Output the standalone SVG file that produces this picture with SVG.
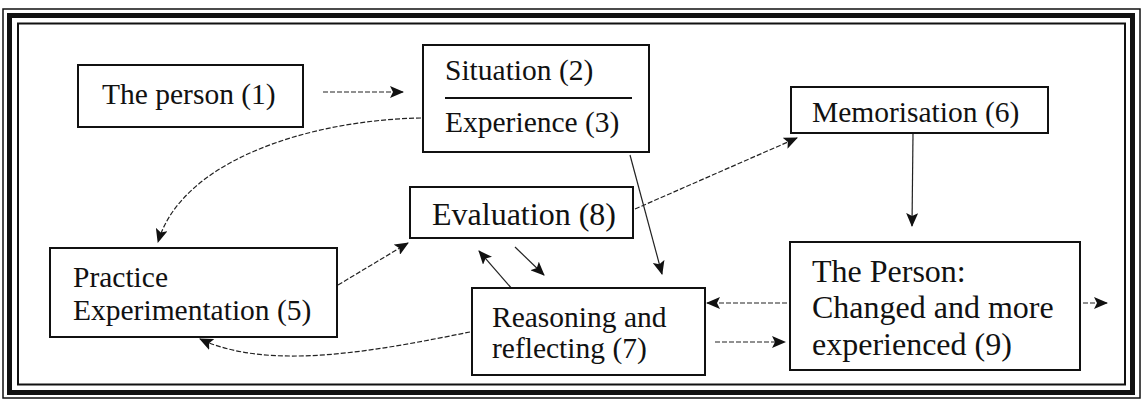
<svg xmlns="http://www.w3.org/2000/svg" width="1147" height="400" viewBox="0 0 1147 400">
<style>
.box{fill:#fff;stroke:#111;stroke-width:2}
.t{font-family:"Liberation Serif","Times New Roman",serif;font-size:29.5px;fill:#111}
.tb{font-family:"Liberation Serif","Times New Roman",serif;font-size:32px;fill:#111}
.c{fill:none;stroke:#222;stroke-width:1.2}
.d{stroke-dasharray:5 2}
</style>
<defs>
<marker id="ah" markerUnits="userSpaceOnUse" markerWidth="14" markerHeight="12" viewBox="0 0 14 12" refX="13" refY="6" orient="auto">
<path d="M0,0 L14,6 L0,12 L3,6 Z" fill="#111"/>
</marker>
</defs>
<rect width="1147" height="400" fill="#fff"/>
<g id="frame" fill="none" stroke="#111">
<rect x="3" y="9" width="1137" height="389" stroke-width="1.5"/>
<rect x="9.5" y="15.5" width="1123" height="377" stroke-width="5"/>
<rect x="18" y="23.5" width="1107" height="361" stroke-width="2"/>
</g>
<g id="connectors">
<line class="c d" x1="323" y1="92" x2="403" y2="92" marker-end="url(#ah)"/>
<path class="c d" d="M421,118 C310,120 182,160 158,242" marker-end="url(#ah)"/>
<line class="c d" x1="338" y1="285" x2="408" y2="243" marker-end="url(#ah)"/>
<line class="c" x1="513" y1="290" x2="479" y2="251" marker-end="url(#ah)"/>
<line class="c" x1="515" y1="247" x2="544" y2="275" marker-end="url(#ah)"/>
<line class="c" x1="630" y1="155" x2="662" y2="274" marker-end="url(#ah)"/>
<line class="c d" x1="635" y1="209" x2="797" y2="138" marker-end="url(#ah)"/>
<line class="c" x1="913" y1="134" x2="912" y2="226" marker-end="url(#ah)"/>
<line class="c d" x1="787" y1="303" x2="707" y2="303" marker-end="url(#ah)"/>
<line class="c d" x1="715" y1="342" x2="785" y2="342" marker-end="url(#ah)"/>
<line class="c d" x1="1083" y1="303" x2="1107" y2="303" marker-end="url(#ah)"/>
<path class="c d" d="M470,332 C380,350 270,372 200,339" marker-end="url(#ah)"/>
</g>
<g id="n1">
<rect class="box" x="78" y="65" width="225" height="62"/>
<text class="t" x="102" y="104">The person (1)</text>
</g>
<g id="n2-3">
<rect class="box" x="423" y="45" width="226" height="107"/>
<text class="t" x="445" y="80">Situation (2)</text>
<line x1="445" y1="98" x2="632" y2="98" stroke="#111" stroke-width="2"/>
<text class="t" x="445" y="132">Experience (3)</text>
</g>
<g id="n5">
<rect class="box" x="50" y="248" width="287" height="89"/>
<text class="t" x="73" y="287">Practice</text>
<text class="t" x="73" y="320">Experimentation (5)</text>
</g>
<g id="n8">
<rect class="box" x="410" y="187" width="223" height="51"/>
<text class="tb" x="432" y="225">Evaluation (8)</text>
</g>
<g id="n6">
<rect class="box" x="791" y="87" width="257" height="46"/>
<text class="t" x="812" y="122">Memorisation (6)</text>
</g>
<g id="n7">
<rect class="box" x="472" y="288" width="233" height="87"/>
<text class="t" x="492" y="327">Reasoning and</text>
<text class="t" x="492" y="358">reflecting (7)</text>
</g>
<g id="n9">
<rect class="box" x="790" y="242" width="290" height="128"/>
<text class="tb" x="812" y="282">The Person:</text>
<text class="tb" x="812" y="318">Changed and more</text>
<text class="tb" x="812" y="355">experienced (9)</text>
</g>
</svg>
